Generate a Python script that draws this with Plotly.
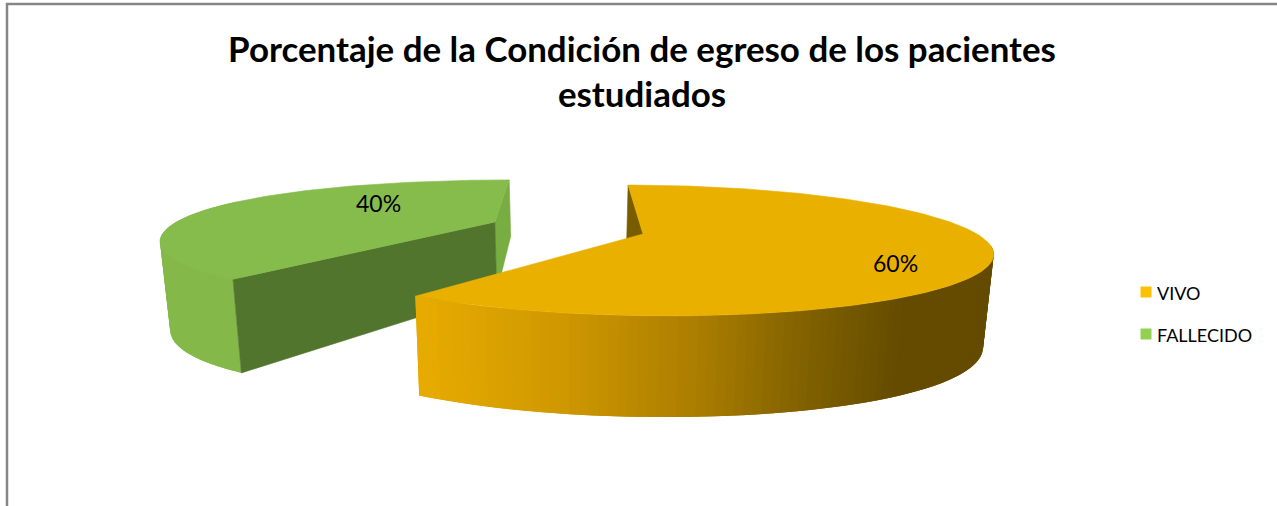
import numpy as np
import plotly.graph_objects as go

categories = ["VIVO", "FALLECIDO"]
percent_values = [60, 40]
title_text = "Porcentaje de la Condición de egreso de los pacientes<br>estudiados"

TOP = {"VIVO": "#EAB000", "FALLECIDO": "#86BC4B"}
START_FACE = {"VIVO": "#7A5C00", "FALLECIDO": "#78AD42"}
LEGEND = {"VIVO": "#FFC000", "FALLECIDO": "#92D050"}

# projection of the exploded, tilted pie onto the page (pixel space)
VX, HY, A, K = 569.0, -9.0, 243.0, 0.252
RADIUS = {"VIVO": 334.0, "FALLECIDO": 335.0}
EXPLODE = {"VIVO": (74.0, 0.0), "FALLECIDO": (-78.0, 0.205)}
WARP_X = {"VIVO": 0.0, "FALLECIDO": -18.0}
WARP_Y = {"VIVO": 0.0, "FALLECIDO": 2.5}
X_SCALE, Y_A, Y_B, BUMP = 0.975, -3.0, 1.33, 13.0


def top_pt(cat, deg):
    t = np.radians(deg)
    x0, z0 = EXPLODE[cat]
    u, v = np.sin(t) * RADIUS[cat], np.cos(t)
    p = 1.0 / (1.0 + K * (z0 + v))
    x = VX + (x0 + u) * p + WARP_X[cat] * min(v, 0.0) ** 2
    y = HY + A * p + WARP_Y[cat] * v ** 2
    return x, y


def bottom_pt(cat, deg):
    x, y = top_pt(cat, deg)
    return VX + (x - VX) * X_SCALE, Y_A + Y_B * y + BUMP * np.sin(np.radians(deg)) ** 2


def arc(fn, cat, a, b, n=80):
    pts = [fn(cat, d) for d in np.linspace(a, b, n)]
    return [float(p[0]) for p in pts], [float(p[1]) for p in pts]


def center(cat, bottom=False):
    x0, z0 = EXPLODE[cat]
    p = 1.0 / (1.0 + K * z0)
    x, y = VX + x0 * p, HY + A * p
    return (VX + (x - VX) * X_SCALE, Y_A + Y_B * y) if bottom else (x, y)


fig = go.Figure()


def poly(xs, ys, color, line=0.6):
    fig.add_trace(go.Scatter(
        x=list(xs) + [xs[0]], y=list(ys) + [ys[0]], mode="lines", fill="toself",
        fillcolor=color, line=dict(color=color, width=line),
        hoverinfo="skip", showlegend=False))


def side(cat, d0, d1, color):
    xt, yt = arc(top_pt, cat, d0, d1, 3)
    xb, yb = arc(bottom_pt, cat, d0, d1, 3)
    poly(xt + xb[::-1], yt + yb[::-1], color, line=0)


# slice spans from the values, clockwise from 12 o'clock
spans = {}
start = 0.0
for c, v in zip(categories, percent_values):
    spans[c] = (start, start + v * 3.6)
    start += v * 3.6

# ---- FALLECIDO ----
c = "FALLECIDO"
a, b = spans[c]
s_t, s_b = top_pt(c, 360), bottom_pt(c, 360)
poly([s_t[0], center(c)[0], center(c, True)[0], s_b[0]],
     [s_t[1], center(c)[1], center(c, True)[1], s_b[1]], START_FACE[c])
for d0 in np.arange(a, a + 75, 2.0):
    side(c, d0, d0 + 4.0, "#84B94A")
e_t, e_b = top_pt(c, a), bottom_pt(c, a)
poly([center(c)[0], e_t[0], e_b[0], center(c, True)[0]],
     [center(c)[1], e_t[1], e_b[1], center(c, True)[1]], "#52752D")
xt, yt = arc(top_pt, c, a, b, 120)
poly([center(c)[0]] + xt, [center(c)[1]] + yt, TOP[c])

# ---- VIVO ----
c = "VIVO"
a, b = spans[c]
s_t, s_b = top_pt(c, a), bottom_pt(c, a)
poly([s_t[0], center(c)[0], center(c, True)[0], s_b[0]],
     [s_t[1], center(c)[1], center(c, True)[1], s_b[1]], START_FACE[c])
grad_x = [415, 560, 700, 800, 900, 995]
grad_r = [232, 208, 170, 130, 100, 100]
grad_g = [172, 152, 125, 98, 75, 75]
step = (b - 100.0) / 90
for d0 in np.arange(100.0, b - step / 2, step):
    d1 = min(d0 + step * 2, b)
    mx = (arc(top_pt, c, d0, d0 + step, 3)[0][1] + arc(bottom_pt, c, d0, d0 + step, 3)[0][1]) / 2
    side(c, d0, d1, f"rgb({np.interp(mx, grad_x, grad_r):.0f},{np.interp(mx, grad_x, grad_g):.0f},0)")
xt, yt = arc(top_pt, c, a, b, 200)
poly([center(c)[0]] + xt, [center(c)[1]] + yt, TOP[c])

# data labels
label_xy = {"VIVO": (895, 263), "FALLECIDO": (378, 203)}
annotations = [dict(x=label_xy[c][0], y=label_xy[c][1], xref="x", yref="y",
                    text=f"{v}%", showarrow=False,
                    font=dict(family="Lato", size=23, color="#000000"))
               for c, v in zip(categories, percent_values)]

# legend keys and entries
legend_y = {"VIVO": 292, "FALLECIDO": 334}
for c in categories:
    fig.add_trace(go.Scatter(
        x=[1146], y=[legend_y[c]], mode="markers", name=c, hoverinfo="skip",
        marker=dict(symbol="square", size=11, color=LEGEND[c]), showlegend=False))
    annotations.append(dict(x=1157, y=legend_y[c] + 0.5, xref="x", yref="y", text=c,
                            showarrow=False, xanchor="left", xshift=-2,
                            font=dict(family="Lato", size=18, color="#000000")))

BORDER = "#868686"
shapes = [
    dict(type="line", xref="x", yref="y", x0=6, x1=1277, y0=4, y1=4,
         line=dict(color=BORDER, width=2.5)),
    dict(type="line", xref="x", yref="y", x0=7, x1=7, y0=3, y1=506,
         line=dict(color=BORDER, width=2.5)),
]

fig.update_layout(
    width=1277, height=506, margin=dict(l=0, r=0, t=0, b=0), showlegend=False,
    paper_bgcolor="white", plot_bgcolor="white",
    xaxis=dict(range=[0, 1277], visible=False, fixedrange=True),
    yaxis=dict(range=[506, 0], visible=False, fixedrange=True),
    title=dict(text=f"<b>{title_text}</b>", x=642 / 1277, xanchor="center",
               y=1 - 62 / 506, yanchor="middle",
               font=dict(family="Lato", size=34.9, color="#000000")),
    shapes=shapes, annotations=annotations,
)

fig.write_html("out.html", config={"displayModeBar": False},
               post_script="document.body.style.margin='0';document.documentElement.style.overflow='hidden';")
